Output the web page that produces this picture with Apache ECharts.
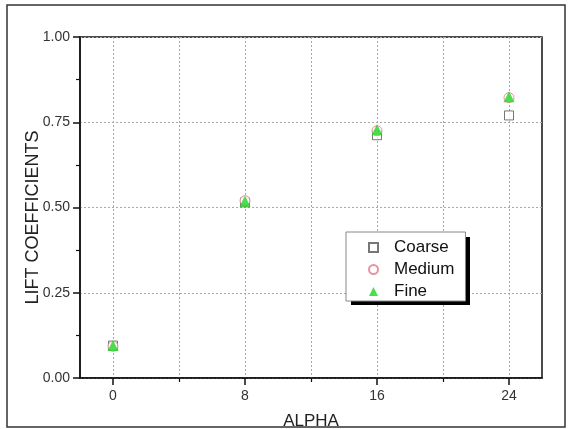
<!DOCTYPE html>
<html>
<head>
<meta charset="utf-8">
<style>
  html, body { margin: 0; padding: 0; background: #fff; }
  #chart { width: 570px; height: 429px; }
</style>
<script src="https://cdn.jsdelivr.net/npm/echarts@6/dist/echarts.min.js"></script>
</head>
<body>
<div id="chart"></div>
<script>
// Angle of attack (degrees) and lift coefficient for three mesh resolutions
const alpha = [0, 8, 16, 24];
const coarse = [0.095, 0.515, 0.712, 0.770];
const medium = [0.093, 0.520, 0.725, 0.822];
const fine = [0.095, 0.518, 0.728, 0.825];

const xMajorTicks = [0, 8, 16, 24];
const xMinorTicks = [4, 12, 20];
const xGridLines = [0, 4, 8, 12, 16, 20, 24];

const FONT = '"Liberation Sans", Arial, sans-serif';

const pairs = (ys) => alpha.map((x, i) => [x, ys[i]]);

const chart = echarts.init(document.getElementById('chart'), null, { renderer: 'canvas' });

const dotted = { color: '#a8a8a8', width: 1, type: [2, 2] };

// legend box placement; a solid black drop shadow sits behind it
const LEG = { x: 346, y: 232, w: 119, h: 68 };

chart.setOption({
  backgroundColor: '#fff',
  animation: false,
  grid: {
    left: 80, right: 28, top: 37, bottom: 51,
    outerBoundsMode: 'none', containLabel: false,
    show: true, borderColor: '#111', borderWidth: 1.5, backgroundColor: 'transparent'
  },
  graphic: [{
    type: 'rect', silent: true, z: 100,
    shape: { x: 7, y: 5, width: 558, height: 422 },
    style: { fill: 'none', stroke: '#333', lineWidth: 1.5 }
  }, {
    type: 'rect', silent: true, z: 3,
    shape: { x: LEG.x + 5, y: LEG.y + 5, width: LEG.w, height: LEG.h },
    style: { fill: '#000' }
  }],
  legend: {
    orient: 'vertical', left: LEG.x, top: LEG.y,
    padding: [7, 11, 1, 22],
    itemWidth: 9, itemHeight: 9, itemGap: 5,
    backgroundColor: '#fff', borderColor: '#888', borderWidth: 1,
    z: 10,
    textStyle: { fontFamily: FONT, fontSize: 17, color: '#111', padding: [0, 0, 0, 11] },
    data: ['Coarse', 'Medium', 'Fine']
  },
  xAxis: [{
    type: 'value', min: -2, max: 26, position: 'bottom',
    name: 'ALPHA', nameLocation: 'middle', nameGap: 35, nameMoveOverlap: false,
    nameTextStyle: { fontFamily: FONT, fontSize: 17, color: '#222' },
    axisLine: { show: true, onZero: false, lineStyle: { color: '#111', width: 1.5 } },
    axisTick: { show: true, length: 7, customValues: xMajorTicks, lineStyle: { color: '#111', width: 1.5 } },
    axisLabel: { customValues: xMajorTicks, margin: 11, fontFamily: FONT, fontSize: 14, color: '#333' },
    splitLine: { show: false }
  }, {
    type: 'value', min: -2, max: 26, position: 'bottom',
    axisLine: { show: false, onZero: false },
    axisTick: { show: true, length: 4, customValues: xMinorTicks, lineStyle: { color: '#111', width: 1.2 } },
    axisLabel: { show: false },
    splitLine: { show: false }
  }, {
    type: 'value', min: -2, max: 26, position: 'bottom',
    axisLine: { show: false, onZero: false },
    axisTick: { show: false, customValues: xGridLines },
    axisLabel: { show: false },
    splitLine: { show: true, lineStyle: dotted }
  }],
  yAxis: {
    type: 'value', min: 0, max: 1, interval: 0.25,
    name: 'LIFT COEFFICIENTS', nameLocation: 'middle', nameGap: 38, nameMoveOverlap: false,
    nameTextStyle: { fontFamily: FONT, fontSize: 18, color: '#222', padding: [0, 20, 0, 0] },
    axisLine: { show: true, onZero: false, lineStyle: { color: '#111', width: 1.5 } },
    axisTick: { show: true, length: 7, lineStyle: { color: '#111', width: 1.5 } },
    minorTick: { show: true, splitNumber: 2, length: 4, lineStyle: { color: '#111', width: 1.2 } },
    axisLabel: { margin: 10, fontFamily: FONT, fontSize: 14, color: '#333', formatter: (v) => v.toFixed(2) },
    splitLine: { show: true, lineStyle: dotted }
  },
  series: [{
    name: 'Coarse', type: 'scatter', xAxisIndex: 0, data: pairs(coarse),
    symbol: 'rect', symbolSize: 9,
    itemStyle: { color: '#fff', borderColor: '#555', borderWidth: 1 }, z: 3
  }, {
    name: 'Medium', type: 'scatter', xAxisIndex: 0, data: pairs(medium),
    symbol: 'circle', symbolSize: 10,
    itemStyle: { color: '#fff', borderColor: '#e0788a', borderWidth: 1 }, z: 4
  }, {
    name: 'Fine', type: 'scatter', xAxisIndex: 0, data: pairs(fine),
    symbol: 'triangle', symbolSize: 11,
    itemStyle: { color: '#1fd41f' }, z: 5
  }]
});
</script>
</body>
</html>
